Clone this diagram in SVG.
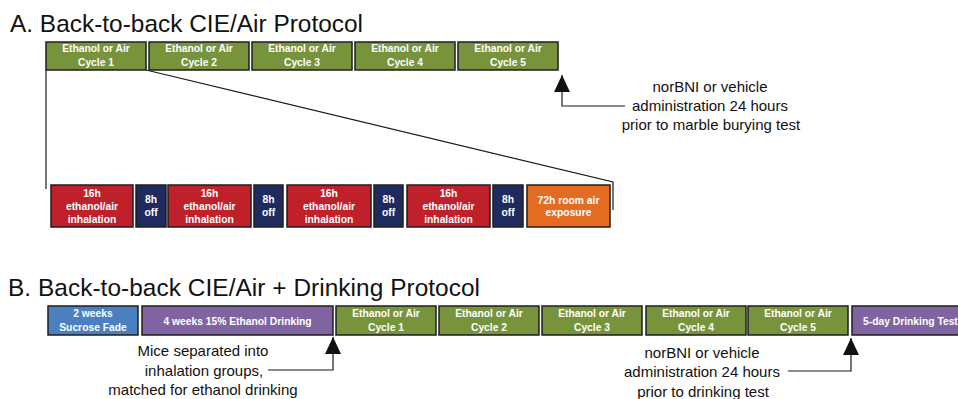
<svg xmlns="http://www.w3.org/2000/svg" width="958" height="399" viewBox="0 0 958 399">
<defs>
<style>
.title{font-family:"Liberation Sans",Arial,sans-serif;font-size:24.4px;fill:#111}
.note{font-family:"Liberation Sans",Arial,sans-serif;font-size:15px;fill:#111;text-anchor:middle}
.bt{font-family:"Liberation Sans",Arial,sans-serif;font-size:10.3px;font-weight:bold;fill:#fff;text-anchor:middle}
.box{stroke:#1e1e1e;stroke-width:1.5}
.g{fill:#77933C}.r{fill:#C0202A}.n{fill:#1F2A5E}.o{fill:#E46C22}.b{fill:#4A80C0}.p{fill:#8064A2}
.ln{fill:none;stroke:#1a1a1a;stroke-width:1.2}
</style>
<marker id="arr" markerUnits="userSpaceOnUse" markerWidth="17" markerHeight="16" refX="17" refY="8" orient="auto">
<path d="M0,0 L17,8 L0,16 z" fill="#111"/>
</marker>
</defs>
<rect width="958" height="399" fill="#fff"/>

<text class="title" x="10" y="32" textLength="353">A. Back-to-back CIE/Air Protocol</text>
<text class="title" x="8" y="296" textLength="472">B. Back-to-back CIE/Air + Drinking Protocol</text>

<g id="connectors">
<path class="ln" d="M46,70 V189"/>
<path class="ln" d="M146,70 L613,182 V210"/>
<path class="ln" d="M625,106 H562 V75" marker-end="url(#arr)"/>
<path class="ln" d="M268,370 H333 V337" marker-end="url(#arr)"/>
<path class="ln" d="M788,371 H851 V338" marker-end="url(#arr)"/>
</g>

<g id="a-cycle1"><rect class="box g" x="46" y="42" width="100" height="28"/><text class="bt" x="96" y="52">Ethanol or Air</text><text class="bt" x="96" y="66">Cycle 1</text></g>
<g id="a-cycle2"><rect class="box g" x="149" y="42" width="100" height="28"/><text class="bt" x="199" y="52">Ethanol or Air</text><text class="bt" x="199" y="66">Cycle 2</text></g>
<g id="a-cycle3"><rect class="box g" x="252" y="42" width="100" height="28"/><text class="bt" x="302" y="52">Ethanol or Air</text><text class="bt" x="302" y="66">Cycle 3</text></g>
<g id="a-cycle4"><rect class="box g" x="355" y="42" width="100" height="28"/><text class="bt" x="405" y="52">Ethanol or Air</text><text class="bt" x="405" y="66">Cycle 4</text></g>
<g id="a-cycle5"><rect class="box g" x="458" y="42" width="100" height="28"/><text class="bt" x="508" y="52">Ethanol or Air</text><text class="bt" x="508" y="66">Cycle 5</text></g>

<g id="a-note"><text class="note" x="710" y="92">norBNI or vehicle</text><text class="note" x="710" y="111">administration 24 hours</text><text class="note" x="711" y="130">prior to marble burying test</text></g>

<g id="inh1"><rect class="box r" x="51" y="185" width="82" height="42"/><text class="bt" x="92" y="197">16h</text><text class="bt" x="92" y="210">ethanol/air</text><text class="bt" x="92" y="223">inhalation</text></g>
<g id="off1"><rect class="box n" x="136" y="185" width="30" height="42"/><text class="bt" x="151" y="203">8h</text><text class="bt" x="151" y="216">off</text></g>
<g id="inh2"><rect class="box r" x="168" y="185" width="83" height="42"/><text class="bt" x="209.5" y="197">16h</text><text class="bt" x="209.5" y="210">ethanol/air</text><text class="bt" x="209.5" y="223">inhalation</text></g>
<g id="off2"><rect class="box n" x="254" y="185" width="29" height="42"/><text class="bt" x="268.5" y="203">8h</text><text class="bt" x="268.5" y="216">off</text></g>
<g id="inh3"><rect class="box r" x="287" y="185" width="84" height="42"/><text class="bt" x="329" y="197">16h</text><text class="bt" x="329" y="210">ethanol/air</text><text class="bt" x="329" y="223">inhalation</text></g>
<g id="off3"><rect class="box n" x="374" y="185" width="29" height="42"/><text class="bt" x="388.5" y="203">8h</text><text class="bt" x="388.5" y="216">off</text></g>
<g id="inh4"><rect class="box r" x="407" y="185" width="83" height="42"/><text class="bt" x="448.5" y="197">16h</text><text class="bt" x="448.5" y="210">ethanol/air</text><text class="bt" x="448.5" y="223">inhalation</text></g>
<g id="off4"><rect class="box n" x="493" y="185" width="30" height="42"/><text class="bt" x="508" y="203">8h</text><text class="bt" x="508" y="216">off</text></g>
<g id="room-air"><rect class="box o" x="527" y="185" width="83" height="42"/><text class="bt" x="568.5" y="204">72h room air</text><text class="bt" x="568.5" y="216">exposure</text></g>

<g id="b-sucrose"><rect class="box b" x="48" y="306" width="90" height="29"/><text class="bt" x="93" y="317">2 weeks</text><text class="bt" x="93" y="331">Sucrose Fade</text></g>
<g id="b-drinking"><rect class="box p" x="142" y="306" width="191" height="29"/><text class="bt" x="237.5" y="324.5">4 weeks 15% Ethanol Drinking</text></g>
<g id="b-cycle1"><rect class="box g" x="336" y="306" width="100" height="29"/><text class="bt" x="386" y="317">Ethanol or Air</text><text class="bt" x="386" y="331">Cycle 1</text></g>
<g id="b-cycle2"><rect class="box g" x="439" y="306" width="100" height="29"/><text class="bt" x="489" y="317">Ethanol or Air</text><text class="bt" x="489" y="331">Cycle 2</text></g>
<g id="b-cycle3"><rect class="box g" x="542" y="306" width="100" height="29"/><text class="bt" x="592" y="317">Ethanol or Air</text><text class="bt" x="592" y="331">Cycle 3</text></g>
<g id="b-cycle4"><rect class="box g" x="646" y="306" width="100" height="29"/><text class="bt" x="696" y="317">Ethanol or Air</text><text class="bt" x="696" y="331">Cycle 4</text></g>
<g id="b-cycle5"><rect class="box g" x="748" y="306" width="100" height="29"/><text class="bt" x="798" y="317">Ethanol or Air</text><text class="bt" x="798" y="331">Cycle 5</text></g>
<g id="b-test"><rect class="box p" x="852" y="306" width="120" height="29"/><text class="bt" x="863" y="324.5" style="text-anchor:start">5-day Drinking Test</text></g>

<g id="b-note1"><text class="note" x="203" y="356">Mice separated into</text><text class="note" x="204" y="376">inhalation groups,</text><text class="note" x="203" y="395">matched for ethanol drinking</text></g>
<g id="b-note2"><text class="note" x="702" y="358">norBNI or vehicle</text><text class="note" x="702" y="377">administration 24 hours</text><text class="note" x="703" y="397">prior to drinking test</text></g>
</svg>
